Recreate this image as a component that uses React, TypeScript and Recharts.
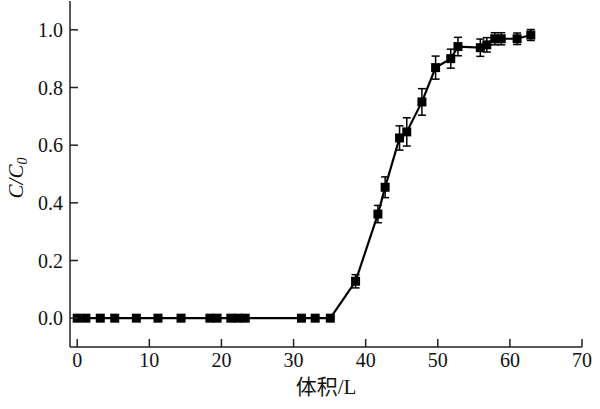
import React from 'react';
import { LineChart, Line, XAxis, YAxis, ErrorBar } from 'recharts';

// values
const volume = [
  0, 1.2, 3.2, 5.2, 8.2, 11.2, 14.4, 18.4, 19.4, 21.3, 22.3, 23.3, 31.1, 33, 35.1,
  38.6, 41.7, 42.7, 44.7, 45.7, 47.8, 49.7, 51.8, 52.8, 55.9, 56.8, 57.9, 58.8, 61, 62.9,
];
const ratio = [
  0, 0, 0, 0, 0, 0, 0, 0, 0, 0, 0, 0, 0, 0, 0,
  0.128, 0.361, 0.454, 0.625, 0.646, 0.75, 0.869, 0.9, 0.942, 0.938, 0.948, 0.969, 0.969, 0.969, 0.982,
];
const ratioErr = [
  0, 0, 0, 0, 0, 0, 0, 0, 0, 0, 0, 0, 0, 0, 0,
  0.023, 0.03, 0.036, 0.042, 0.049, 0.046, 0.04, 0.033, 0.032, 0.03, 0.025, 0.021, 0.021, 0.02, 0.019,
];
const xTicks = [0, 10, 20, 30, 40, 50, 60, 70];
const yTicks = [0, 0.2, 0.4, 0.6, 0.8, 1.0];

const data = volume.map((v, i) => ({ x: v, y: ratio[i], err: ratioErr[i] }));

const AXIS = '#222';
const FONT = '"Liberation Serif", "Times New Roman", "Noto Sans CJK SC", serif';

function XTick(props: any) {
  const { x, y, payload } = props;
  return (
    <g>
      <line x1={x} x2={x} y1={y} y2={y - 8} stroke={AXIS} strokeWidth={1.5} />
      <text x={x} y={y + 20} textAnchor="middle" fontSize={20} fontFamily={FONT} fill="#111">
        {payload.value}
      </text>
    </g>
  );
}

function YTick(props: any) {
  const { x, y, payload } = props;
  return (
    <g>
      <line x1={x} x2={x + 8} y1={y} y2={y} stroke={AXIS} strokeWidth={1.5} />
      <text x={x - 7} y={y + 7} textAnchor="end" fontSize={20} fontFamily={FONT} fill="#111">
        {Number(payload.value).toFixed(1)}
      </text>
    </g>
  );
}

function SquareDot(props: any) {
  const { cx, cy, index } = props;
  if (cx == null || cy == null) return <g key={`d-${index}`} />;
  return <rect key={`d-${index}`} x={cx - 4.5} y={cy - 4.5} width={9} height={9} fill="#000" />;
}

export default function App() {
  return (
    <div style={{ position: 'absolute', left: 0, top: 0, width: 600, height: 409, background: '#fff' }}>
      <LineChart width={600} height={409} data={data} margin={{ top: 1, right: 18, bottom: 0, left: 0 }}>
        <XAxis
          dataKey="x"
          type="number"
          domain={[-1, 70]}
          ticks={xTicks}
          allowDataOverflow
          height={62}
          tickLine={false}
          tickSize={0}
          tickMargin={0}
          tick={<XTick />}
          axisLine={{ stroke: AXIS, strokeWidth: 1.5 }}
          interval={0}
        />
        <XAxis
          xAxisId="top"
          orientation="top"
          type="number"
          domain={[-1, 70]}
          height={0}
          tick={false}
          tickLine={false}
          axisLine={{ stroke: AXIS, strokeWidth: 1.5 }}
        />
        <YAxis
          type="number"
          domain={[-0.1, 1.1]}
          ticks={yTicks}
          allowDataOverflow
          width={70}
          tickLine={false}
          tickSize={0}
          tickMargin={0}
          tick={<YTick />}
          axisLine={{ stroke: AXIS, strokeWidth: 1.5 }}
          interval={0}
        />
        <YAxis
          yAxisId="right"
          orientation="right"
          type="number"
          domain={[-0.1, 1.1]}
          width={0}
          tick={false}
          tickLine={false}
          axisLine={{ stroke: AXIS, strokeWidth: 1.5 }}
        />
        <Line
          dataKey="y"
          type="linear"
          stroke="#000"
          strokeWidth={2.2}
          dot={SquareDot}
          activeDot={false}
          isAnimationActive={false}
        >
          <ErrorBar dataKey="err" direction="y" width={4} stroke="#000" strokeWidth={1.5} />
        </Line>
      </LineChart>
      <div
        style={{
          position: 'absolute',
          left: 266,
          width: 120,
          top: 370,
          textAlign: 'center',
          fontSize: 21,
          fontFamily: FONT,
          color: '#111',
          whiteSpace: 'nowrap',
        }}
      >
        体积/L
      </div>
      <div
        style={{
          position: 'absolute',
          left: 17,
          top: 178,
          transform: 'translate(-50%, -50%) rotate(-90deg)',
          fontSize: 21,
          fontFamily: FONT,
          fontStyle: 'italic',
          color: '#111',
          whiteSpace: 'nowrap',
        }}
      >
        C/C<sub style={{ fontSize: 14, verticalAlign: -4 }}>0</sub>
      </div>
    </div>
  );
}
